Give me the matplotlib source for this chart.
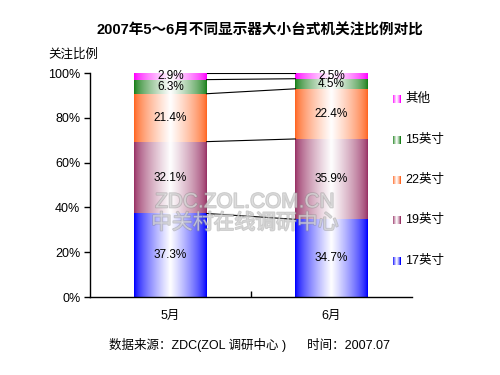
import numpy as np
import matplotlib
matplotlib.use('Agg')
import matplotlib.pyplot as plt
import matplotlib.patheffects as pe
from matplotlib.colors import to_rgb

plt.rcParams['font.family'] = ['Liberation Sans', 'Noto Sans CJK SC', 'DejaVu Sans']

months = ['5月', '6月']
sizes = ['17英寸', '19英寸', '22英寸', '15英寸', '其他']
s17 = [37.3, 34.7]
s19 = [32.1, 35.9]
s22 = [21.4, 22.4]
s15 = [6.3, 4.5]
other = [2.9, 2.5]
colors = ['#0000FF', '#993366', '#FF6622', '#1A7F1A', '#FF00FF']


def gradient(color, n=64):
    t = np.linspace(0, 1, n)
    w = (1 - np.abs(2 * t - 1)) ** 0.7
    c = np.array(to_rgb(color))
    img = c[None, :] * (1 - w[:, None]) + w[:, None]
    return img[None, :, :]


fig = plt.figure(figsize=(5, 3.75), dpi=100)
ax = fig.add_axes([0.18, 0.208, 0.644, 0.597])

x = np.arange(len(months))
width = 0.45
series = [s17, s19, s22, s15, other]
bottom = np.zeros(len(months))
tops = []
for vals, col in zip(series, colors):
    vals = np.array(vals)
    bars = ax.bar(x, vals, width, bottom=bottom, color='none', edgecolor='none')
    for b, v, b0 in zip(bars, vals, bottom):
        x0, y0 = b.get_x(), b.get_y()
        im = ax.imshow(gradient(col), extent=[x0, x0 + b.get_width(), y0, y0 + v],
                       aspect='auto', interpolation='bilinear', zorder=2)
        im.set_clip_path(b)
        ax.text(b.get_x() + b.get_width() / 2, b0 + v / 2, f'{v:.1f}%',
                ha='center', va='center', fontsize=8.5, zorder=4)
    bottom = bottom + vals
    tops.append(bottom.copy())

# connectors between bars
for cum in tops:
    ax.plot([x[0] + width / 2, x[1] - width / 2], cum, color='black', lw=0.8, zorder=3)

ax.set_xlim(-0.5, 1.5)
ax.set_ylim(0, 100)
ax.set_yticks(np.arange(0, 101, 20))
ax.set_yticklabels([f'{v}%' for v in range(0, 101, 20)], fontsize=9)
ax.set_xticks([0.5])
ax.set_xticklabels([''])
for xi, m in zip(x, months):
    ax.text(xi, -6, m, ha='center', va='top', fontsize=9)
ax.tick_params(axis='y', direction='out', length=4, width=1, pad=3)
ax.tick_params(axis='x', direction='in', length=4, width=1)
for s in ['top', 'right']:
    ax.spines[s].set_visible(False)
for s in ['left', 'bottom']:
    ax.spines[s].set_linewidth(1)

# watermark
wm = dict(ha='center', va='center', color=(0.92, 0.92, 0.92, 0.45), zorder=5,
          path_effects=[pe.Stroke(linewidth=1.2, foreground=(0.55, 0.55, 0.55, 0.45)), pe.Normal()])
fig.text(0.49, 1 - 202 / 375, 'ZDC.ZOL.COM.CN', fontsize=15, **wm)
fig.text(0.49, 1 - 223 / 375, '中关村在线调研中心', fontsize=15, **wm)

# legend
leg_y = [99, 140, 180, 220, 261]
for lab, col, yy in zip(sizes[::-1], colors[::-1], leg_y):
    lax = fig.add_axes([393 / 500, 1 - (yy + 4) / 375, 8 / 500, 8 / 375])
    lax.imshow(gradient(col, 16), aspect='auto', interpolation='nearest')
    lax.axis('off')
    fig.text(405 / 500, 1 - yy / 375, lab, ha='left', va='center', fontsize=9)

fig.text(0.52, 1 - 31 / 375, '2007年5～6月不同显示器大小台式机关注比例对比',
         ha='center', va='center', fontsize=10.5, fontweight='bold')
fig.text(48 / 500, 1 - 55 / 375, '关注比例', ha='left', va='center', fontsize=9)
fig.text(109 / 500, 1 - 345 / 375, '数据来源：ZDC(ZOL 调研中心 )      时间：2007.07',
         ha='left', va='center', fontsize=9)

fig.savefig('out.png', dpi=100)
